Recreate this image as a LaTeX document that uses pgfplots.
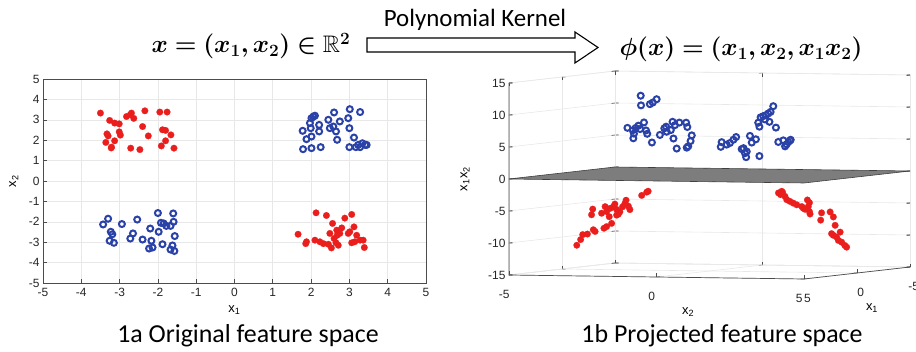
\documentclass[border=0pt]{standalone}
\usepackage{pgfplots}
\pgfplotsset{compat=1.18}
\usepackage{pgfplotstable}
\usepackage{amssymb}
\usepackage{bm}
\usepackage{fontspec}
\setmainfont{Liberation Sans}
\newfontfamily\carlito{Carlito}

\definecolor{mred}{RGB}{235,30,30}
\definecolor{mblue}{RGB}{42,66,168}
\definecolor{planegray}{RGB}{125,125,125}

\newcommand{\hdrA}{\fontsize{24}{28}\selectfont$\bm{x} \bm{=} \bm{(}\bm{x}_{\bm{1}}\bm{,} \bm{x}_{\bm{2}}\bm{)} \bm{\in} \mathbb{R}^{\bm{2}}$}
\newcommand{\hdrB}{\fontsize{24}{28}\selectfont$\bm{\phi}\bm{(}\bm{x}\bm{)} \bm{=} \bm{(}\bm{x}_{\bm{1}}\bm{,} \bm{x}_{\bm{2}}\bm{,} \bm{x}_{\bm{1}}\bm{x}_{\bm{2}}\bm{)}$}
\newcommand{\xone}{x\textsubscript{1}}
\newcommand{\xtwo}{x\textsubscript{2}}

\pgfplotstableread{
x1 x2
-3.50 3.33
-3.26 2.97
-3.13 2.84
-3.01 2.80
-2.82 3.16
-2.72 3.25
-2.69 3.33
-2.63 3.07
-2.34 3.44
-1.95 3.38
-1.76 3.38
-2.40 2.67
-2.25 2.21
-1.88 2.51
-1.80 2.48
-1.66 2.26
-1.80 1.97
-1.91 1.72
-1.58 1.61
-2.47 1.54
-2.71 1.61
-3.01 2.41
-2.98 2.25
-3.30 2.21
-3.33 2.31
-3.36 1.89
-3.21 1.66
-3.13 1.97
-3.22 1.62
1.66 -2.61
1.86 -3.07
1.88 -2.98
2.13 -1.56
2.40 -1.69
2.56 -2.08
2.10 -2.90
2.23 -2.98
2.32 -3.07
2.45 -3.10
2.53 -3.28
2.49 -2.57
2.60 -2.82
2.65 -3.03
2.68 -2.66
2.67 -2.41
2.75 -2.57
2.80 -2.30
2.88 -1.82
3.06 -1.64
2.97 -2.57
3.01 -2.49
3.06 -3.03
3.14 -2.98
3.12 -2.25
3.19 -2.66
3.28 -2.90
3.36 -2.90
3.39 -3.26
2.71 -3.15
}\redtwod

\pgfplotstableread{
x1 x2
1.78 2.46
2.01 3.08
2.06 3.16
2.10 3.20
1.97 2.84
1.99 2.59
2.21 2.75
2.21 2.43
1.88 2.05
2.01 2.18
1.79 1.56
2.01 1.61
2.25 1.66
2.45 3.00
2.60 3.36
2.75 2.92
2.97 3.08
3.01 3.52
3.28 3.38
2.49 2.59
2.58 2.67
2.65 2.43
2.68 2.02
3.00 2.59
3.12 2.13
3.23 1.77
3.00 1.66
3.17 1.66
3.34 1.85
3.41 1.77
3.45 1.77
3.28 1.66
-3.43 -2.13
-3.30 -1.85
-3.23 -2.49
-3.19 -2.61
-3.26 -2.93
-3.15 -3.03
-2.94 -2.11
-2.54 -1.89
-2.72 -2.82
-2.65 -2.57
-2.40 -2.87
-2.20 -2.33
-2.17 -2.93
-2.23 -3.31
-2.14 -3.26
-2.00 -1.57
-1.98 -2.49
-1.92 -2.05
-1.88 -3.10
-1.85 -2.08
-1.78 -2.20
-1.67 -2.20
-1.60 -1.59
-1.59 -2.00
-1.56 -2.70
-1.62 -3.16
-1.67 -3.36
-1.57 -3.43
}\bluetwod

\pgfplotstableread{
x1 x2 z
2.5 -3.60 -10.73
2.5 -3.47 -9.84
2.5 -3.40 -9.06
2.5 -3.24 -8.96
2.5 -3.04 -8.28
2.5 -2.98 -8.54
2.5 -3.06 -5.05
2.5 -3.10 -5.94
2.5 -2.64 -4.64
2.5 -2.76 -5.68
2.5 -2.59 -5.42
2.5 -2.36 -4.64
2.5 -2.31 -4.22
2.5 -2.25 -5.05
2.5 -2.19 -5.78
2.5 -2.50 -6.20
2.5 -2.42 -7.24
2.5 -2.59 -7.76
2.5 -2.68 -8.02
2.5 -2.14 -5.42
2.5 -2.05 -4.64
2.5 -1.93 -3.59
2.5 -1.85 -4.53
2.5 -1.80 -5.05
2.5 -1.40 -2.81
2.5 -1.23 -2.29
2.5 -1.18 -2.14
2.5 -2.25 -5.94
2.5 -2.47 -4.90
2.5 -1.97 -4.11
-2.5 1.44 -3.18
-2.5 1.51 -3.44
-2.5 1.58 -3.07
-2.5 1.66 -3.70
-2.5 1.72 -4.22
-2.5 1.94 -4.74
-2.5 2.06 -5.00
-2.5 2.23 -5.26
-2.5 2.34 -5.68
-2.5 2.42 -4.22
-2.5 2.45 -5.26
-2.5 2.49 -6.04
-2.5 2.51 -6.41
-2.5 2.87 -7.34
-2.5 2.90 -6.20
-2.5 3.19 -6.04
-2.5 3.30 -6.82
-2.5 3.36 -8.12
-2.5 3.24 -9.43
-2.5 3.30 -9.69
-2.5 3.41 -9.95
-2.5 3.53 -9.17
-2.5 3.47 -10.47
-2.5 3.58 -10.73
-2.5 3.69 -11.25
-2.5 3.75 -11.51
-2.5 2.49 -4.64
-2.5 2.28 -5.52
-2.5 1.83 -4.48
-2.5 1.55 -2.92
}\redthreed

\pgfplotstableread{
x1 x2 z
-2.5 -3.23 11.72
-2.5 -3.22 10.21
-2.5 -2.92 10.42
-2.5 -2.82 10.68
-2.5 -2.69 11.20
-2.5 -3.68 6.67
-2.5 -3.50 6.30
-2.5 -3.46 5.78
-2.5 -3.40 6.67
-2.5 -3.31 7.03
-2.5 -3.25 6.51
-2.5 -3.12 7.55
-2.5 -3.05 6.30
-2.5 -3.01 5.78
-2.5 -3.48 5.05
-2.5 -2.85 4.43
-2.5 -2.58 5.63
-2.5 -2.43 6.67
-2.5 -2.35 6.15
-2.5 -2.15 7.71
-2.5 -2.12 5.10
-2.5 -2.07 7.19
-2.5 -1.92 7.60
-2.5 -1.69 7.60
-2.5 -1.65 6.93
-2.5 -1.50 5.63
-2.5 -1.54 4.74
-2.5 -1.62 3.91
-2.5 -1.67 3.70
-2.5 -2.01 3.54
-2.5 -2.21 6.41
-2.5 -2.37 6.93
2.5 1.28 4.95
2.5 1.31 5.68
2.5 1.48 5.31
2.5 1.59 5.57
2.5 1.71 6.09
2.5 1.80 6.51
2.5 1.99 4.64
2.5 2.05 4.79
2.5 2.10 4.01
2.5 2.14 3.39
2.5 2.16 4.27
2.5 2.27 6.72
2.5 2.33 5.68
2.5 2.47 6.20
2.5 2.55 8.80
2.5 2.59 8.18
2.5 2.63 9.64
2.5 2.72 9.84
2.5 2.81 10.00
2.5 2.89 10.26
2.5 2.97 10.52
2.5 3.06 11.41
2.5 2.93 8.96
2.5 3.15 8.07
2.5 2.59 3.59
2.5 3.23 5.83
2.5 3.40 6.09
2.5 3.46 5.16
2.5 3.51 5.47
2.5 3.57 5.83
2.5 3.63 6.09
2.5 3.65 6.20
2.5 2.78 9.32
}\bluethreed

\pgfplotsset{
  redmk/.style={only marks, mark=*, mark size=3.3bp, mark options={draw=mred, fill=mred, line width=0.2bp}},
  bluemk/.style={only marks, mark=o, mark size=3.0bp, mark options={draw=mblue, line width=2.0bp}},
  mlstyle/.style={
    /pgf/number format/assume math mode=true,
    tick label style={font=\fontsize{12}{14}\selectfont, text=black!85},
    tick style={black!70, line width=0.6bp},
    major tick length=3.5bp,
    grid=major,
    major grid style={black!9, line width=0.6bp},
  }
}

\begin{document}
\begin{tikzpicture}
\path[use as bounding box] (0bp,0bp) rectangle (916bp,352bp);

\node[anchor=base, inner sep=0pt] at (251bp,299bp) {\hdrA};
\node[anchor=base, inner sep=0pt] at (741bp,296bp) {\hdrB};
\draw[line width=1.1bp, fill=white] (367bp,314bp) -- (575bp,314bp) -- (575bp,320bp) -- (598bp,304.5bp) -- (575bp,289bp) -- (575bp,300bp) -- (367bp,300bp) -- cycle;
\node[anchor=base, inner sep=0pt] at (475bp,325.3bp) {\carlito\fontsize{25}{29}\selectfont Polynomial Kernel};

\node[anchor=base, inner sep=0pt] at (248bp,10bp) {\carlito\fontsize{26}{30}\selectfont 1a Original feature space};
\node[anchor=base, inner sep=0pt] at (722bp,10bp) {\carlito\fontsize{26}{30}\selectfont 1b Projected feature space};

\begin{axis}[mlstyle,
  at={(43bp,69bp)}, anchor=south west,
  width=383bp, height=204bp, scale only axis,
  axis line style={black!70},
  xmin=-5, xmax=5, ymin=-5, ymax=5,
  xtick={-5,-4,...,5}, ytick={-5,-4,...,5},
  tick pos=left,
  xticklabel style={yshift=-2bp},
  xlabel={\xone}, ylabel={\xtwo},
  label style={font=\fontsize{13}{15}\selectfont},
  xlabel style={at={(axis description cs:0.5,-0.132)}, anchor=center},
  ylabel style={at={(axis description cs:-0.076,0.5)}, anchor=center},
  clip=false,
]
\addplot[redmk] table[x=x1, y=x2] {\redtwod};
\addplot[bluemk] table[x=x1, y=x2] {\bluetwod};
\end{axis}

\begin{axis}[mlstyle,
  at={(709.5bp,177bp)}, anchor=origin,
  x={(-10.6bp,-1.2bp)}, y={(29.5bp,-0.4bp)}, z={(0bp,6.4bp)},
  axis line style={black!9, line width=0.6bp},
  xmin=-5, xmax=5, ymin=-5, ymax=5, zmin=-15, zmax=15,
  xtick={-5,0,5}, ytick={-5,0,5}, ztick={-15,-10,...,15},
  xticklabel style={yshift=-12bp, xshift=-4bp},
  yticklabel style={yshift=-12bp, xshift=2bp},
  clip=false,
]
\draw[black!70, line width=0.7bp] (axis cs:5,-5,15) -- (axis cs:5,-5,-15) -- (axis cs:5,5,-15) -- (axis cs:-5,5,-15);
\addplot3[draw=black!75, fill=planegray, line width=0.6bp] coordinates {(5,-5,0) (-5,-5,0) (-5,5,0) (5,5,0) (5,-5,0)};
\addplot3[redmk] table[x=x1, y=x2, z=z] {\redthreed};
\addplot3[bluemk] table[x=x1, y=x2, z=z] {\bluethreed};
\node[rotate=90, font=\fontsize{13}{15}\selectfont] at ([xshift=-44bp]axis cs:5,-5,0) {\xone\xtwo};
\node[font=\fontsize{13}{15}\selectfont] at ([yshift=-35bp]axis cs:5,1.07,-15) {\xtwo};
\node[font=\fontsize{13}{15}\selectfont] at ([xshift=15bp, yshift=-35bp]axis cs:0,5,-15) {\xone};
\end{axis}
\end{tikzpicture}
\end{document}
